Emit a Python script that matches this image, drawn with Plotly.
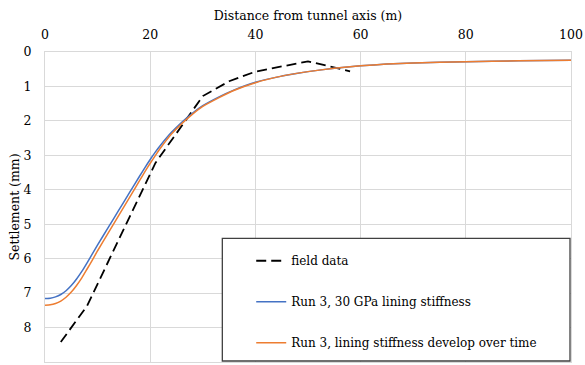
import plotly.graph_objects as go

# Field data
field_x = [3, 8, 21, 30, 35, 40, 50, 58]
field_y = [8.42, 7.37, 3.22, 1.28, 0.85, 0.57, 0.27, 0.56]

# Model results
model_x = [0, 1, 2, 3, 4, 5, 6, 7, 8, 9, 10, 12, 14, 16, 18, 19, 20, 21, 22, 24, 26,
           28, 30, 33, 36, 40, 45, 50, 55, 60, 65, 70, 80, 90, 100]
run3_30gpa = [7.16, 7.15, 7.11, 7.04, 6.93, 6.78, 6.59, 6.37, 6.12, 5.86, 5.60, 5.10,
              4.60, 4.10, 3.60, 3.355, 3.12, 2.90, 2.70, 2.34, 2.04, 1.78, 1.56, 1.31,
              1.10, 0.88, 0.70, 0.57, 0.47, 0.40, 0.35, 0.32, 0.28, 0.255, 0.24]
run3_develop = [7.35, 7.34, 7.30, 7.23, 7.12, 6.97, 6.78, 6.56, 6.30, 6.04, 5.77, 5.26,
                4.75, 4.24, 3.73, 3.47, 3.23, 3.00, 2.78, 2.39, 2.08, 1.81, 1.58, 1.33,
                1.11, 0.89, 0.70, 0.57, 0.47, 0.40, 0.35, 0.32, 0.28, 0.255, 0.24]

x_ticks = [0, 20, 40, 60, 80, 100]
y_ticks = [0, 1, 2, 3, 4, 5, 6, 7, 8, 9]

FONT = "DejaVu Serif"

fig = go.Figure()
fig.add_trace(go.Scatter(x=field_x, y=field_y, mode="lines", name="field data",
                         legendgroup="a",
                         line=dict(color="black", width=1.8, dash="10px,5px")))
fig.add_trace(go.Scatter(x=model_x, y=run3_30gpa, mode="lines",
                         name="Run 3, 30 GPa lining stiffness", legendgroup="b",
                         line=dict(color="#4472C4", width=1.5, shape="spline", smoothing=0.3)))
fig.add_trace(go.Scatter(x=model_x, y=run3_develop, mode="lines",
                         name="Run 3, lining stiffness develop over time", legendgroup="c",
                         line=dict(color="#ED7D31", width=1.5, shape="spline", smoothing=0.3)))

# legend frame
fig.add_shape(type="rect", xref="paper", yref="paper",
              x0=(223 - 45) / 528, x1=(572 - 45) / 528,
              y0=(363 - 362) / 310.7, y1=(363 - 239) / 310.7,
              line=dict(color="#404040", width=1.3), fillcolor="white", layer="above")

fig.update_layout(
    width=585, height=365,
    margin=dict(l=45, r=12, t=52, b=2),
    plot_bgcolor="white", paper_bgcolor="white",
    font=dict(family=FONT, size=12.5, color="black"),
    showlegend=True,
    legend=dict(x=(252 - 45) / 528, y=(363 - 247) / 310.7, xanchor="left", yanchor="top",
                bgcolor="rgba(0,0,0,0)", borderwidth=0, tracegroupgap=22,
                traceorder="grouped", font=dict(family=FONT, size=12, color="black")),
    xaxis=dict(range=[0, 100], side="top", tickvals=x_ticks, showgrid=True,
               gridcolor="#d9d9d9", showline=True, linecolor="#d9d9d9", mirror=True,
               zeroline=False, ticks="", ticklabelstandoff=7,
               tickfont=dict(family=FONT, size=12.5),
               title=dict(text="Distance from tunnel axis (m)",
                          font=dict(family=FONT, size=12.5), standoff=3)),
    yaxis=dict(range=[9, 0], tickvals=y_ticks, showgrid=True, gridcolor="#d9d9d9",
               showline=True, linecolor="#d9d9d9", mirror=True, zeroline=False,
               ticks="", ticklabelstandoff=10, tickfont=dict(family=FONT, size=12.5),
               title=dict(text="Settlement (mm)", font=dict(family=FONT, size=12.5),
                          standoff=1)),
)

fig.write_html("out.html")
